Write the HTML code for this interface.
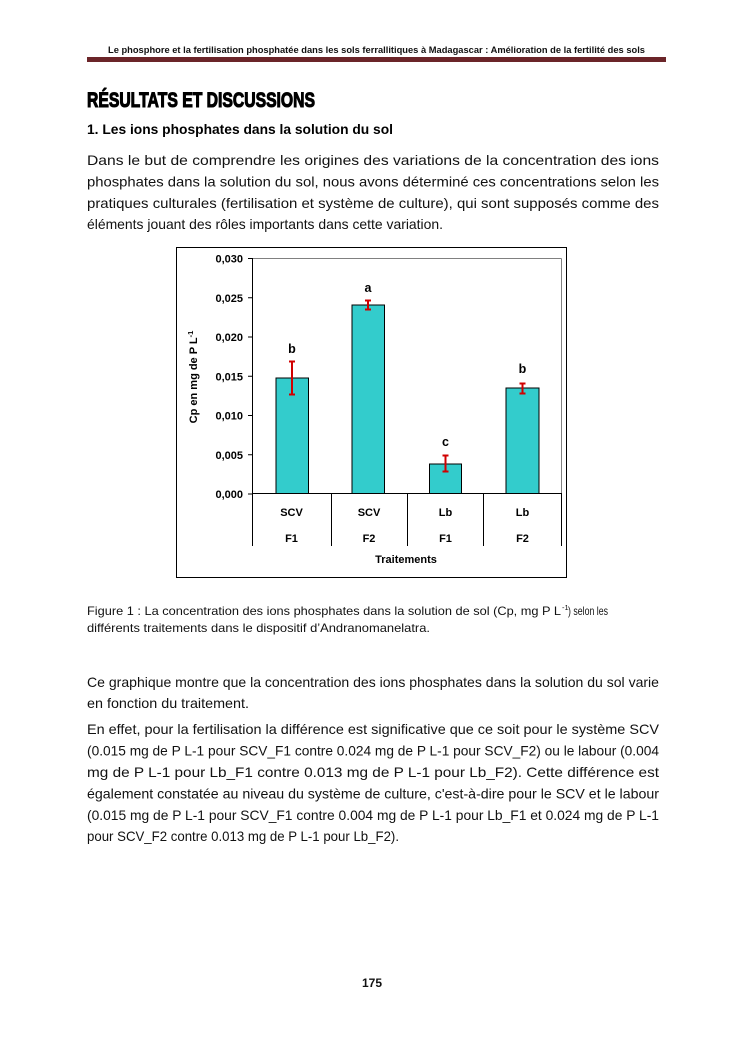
<!DOCTYPE html>
<html><head><meta charset="utf-8">
<style>
html,body{margin:0;padding:0;background:#fff;}
svg{display:block;}
text{font-family:"Liberation Sans",Arial,sans-serif;}
</style></head>
<body>
<svg width="745" height="1053" viewBox="0 0 745 1053" xmlns="http://www.w3.org/2000/svg">
<rect width="745" height="1053" fill="#fff"/>
<!-- Header -->
<text x="108" y="53" font-size="9.5" font-weight="bold" fill="#111" textLength="537" lengthAdjust="spacingAndGlyphs">Le phosphore et la fertilisation phosphatée dans les sols ferrallitiques à Madagascar : Amélioration de la fertilité des sols</text>
<rect x="87" y="57" width="579" height="5" fill="#6b2529"/>

<!-- Title -->
<text x="87" y="107" font-size="21" font-weight="bold" fill="#000" stroke="#000" stroke-width="1.1" textLength="228" lengthAdjust="spacingAndGlyphs">RÉSULTATS ET DISCUSSIONS</text>
<text x="87" y="134" font-size="13.4" font-weight="bold" fill="#000" textLength="306" lengthAdjust="spacingAndGlyphs">1. Les ions phosphates dans la solution du sol</text>

<!-- Paragraph 1 -->
<g font-size="13.6" fill="#111">
<text x="87" y="165" textLength="572" lengthAdjust="spacingAndGlyphs">Dans le but de comprendre les origines des variations de la concentration des ions</text>
<text x="87" y="186.5" textLength="572" lengthAdjust="spacingAndGlyphs">phosphates dans la solution du sol, nous avons déterminé ces concentrations selon les</text>
<text x="87" y="208" textLength="572" lengthAdjust="spacingAndGlyphs">pratiques culturales (fertilisation et système de culture), qui sont supposés comme des</text>
<text x="87" y="229" textLength="356" lengthAdjust="spacingAndGlyphs">éléments jouant des rôles importants dans cette variation.</text>
</g>

<!-- Chart -->
<rect x="176.5" y="247.5" width="390" height="330" fill="#fff" stroke="#000" stroke-width="1"/>
<line x1="252" y1="258.5" x2="561.5" y2="258.5" stroke="#808080" stroke-width="1"/>
<line x1="561.5" y1="258.5" x2="561.5" y2="493.5" stroke="#808080" stroke-width="1"/>
<line x1="252.5" y1="258" x2="252.5" y2="546" stroke="#000" stroke-width="1"/>
<g stroke="#000" stroke-width="1">
<line x1="248" y1="258.5" x2="252" y2="258.5"/>
<line x1="248" y1="297.75" x2="252" y2="297.75"/>
<line x1="248" y1="337" x2="252" y2="337"/>
<line x1="248" y1="376.25" x2="252" y2="376.25"/>
<line x1="248" y1="415.5" x2="252" y2="415.5"/>
<line x1="248" y1="454.75" x2="252" y2="454.75"/>
<line x1="248" y1="494" x2="252" y2="494"/>
</g>
<g font-size="11" font-weight="bold" fill="#000" text-anchor="end">
<text x="243" y="262.5">0,030</text>
<text x="243" y="301.75">0,025</text>
<text x="243" y="341">0,020</text>
<text x="243" y="380.25">0,015</text>
<text x="243" y="419.5">0,010</text>
<text x="243" y="458.75">0,005</text>
<text x="243" y="498">0,000</text>
</g>
<text transform="translate(197,377) rotate(-90)" font-size="11" font-weight="bold" fill="#000" text-anchor="middle">Cp en mg de P L<tspan font-size="7.5" dy="-4">-1</tspan></text>

<g fill="#33CCCC" stroke="#000" stroke-width="1">
<rect x="276" y="378" width="32.5" height="115.5"/>
<rect x="352" y="305" width="32.5" height="188.5"/>
<rect x="429.5" y="464" width="32" height="29.5"/>
<rect x="506" y="388" width="33" height="105.5"/>
</g>
<line x1="252" y1="493.5" x2="562" y2="493.5" stroke="#000" stroke-width="1"/>
<g stroke="#000" stroke-width="1">
<line x1="331.5" y1="493.5" x2="331.5" y2="546"/>
<line x1="407.5" y1="493.5" x2="407.5" y2="546"/>
<line x1="483.5" y1="493.5" x2="483.5" y2="546"/>
<line x1="561.5" y1="493.5" x2="561.5" y2="546"/>
</g>
<g stroke="#d00000" stroke-width="2" fill="none">
<line x1="292" y1="361" x2="292" y2="395"/><line x1="289" y1="361.5" x2="295" y2="361.5"/><line x1="289" y1="394.5" x2="295" y2="394.5"/>
<line x1="368" y1="300" x2="368" y2="310"/><line x1="365" y1="300.5" x2="371" y2="300.5"/><line x1="365" y1="309.5" x2="371" y2="309.5"/>
<line x1="445.5" y1="455" x2="445.5" y2="472"/><line x1="442.5" y1="455.5" x2="448.5" y2="455.5"/><line x1="442.5" y1="471.5" x2="448.5" y2="471.5"/>
<line x1="522.5" y1="383" x2="522.5" y2="394"/><line x1="519.5" y1="383.5" x2="525.5" y2="383.5"/><line x1="519.5" y1="393.5" x2="525.5" y2="393.5"/>
</g>
<g font-size="12.5" font-weight="bold" fill="#000" text-anchor="middle">
<text x="292" y="353">b</text>
<text x="368" y="292">a</text>
<text x="445.5" y="446">c</text>
<text x="522.5" y="373">b</text>
</g>
<g font-size="11" font-weight="bold" fill="#000" text-anchor="middle">
<text x="291.5" y="516">SCV</text>
<text x="369" y="516">SCV</text>
<text x="445.5" y="516">Lb</text>
<text x="522.5" y="516">Lb</text>
<text x="291.5" y="542">F1</text>
<text x="369" y="542">F2</text>
<text x="445.5" y="542">F1</text>
<text x="522.5" y="542">F2</text>
<text x="406" y="563">Traitements</text>
</g>

<!-- Caption -->
<g font-size="12" fill="#111">
<text x="87" y="615" textLength="474" lengthAdjust="spacingAndGlyphs">Figure 1 : La concentration des ions phosphates dans la solution de sol (Cp, mg P L</text>
<text x="562" y="610" font-size="7.5">-1</text>
<text x="568" y="615" textLength="40" lengthAdjust="spacingAndGlyphs">) selon les</text>
<text x="87" y="632" textLength="343" lengthAdjust="spacingAndGlyphs">différents traitements dans le dispositif d’Andranomanelatra.</text>
</g>

<!-- Paragraph 2 -->
<g font-size="13.6" fill="#111">
<text x="87" y="687" textLength="572" lengthAdjust="spacingAndGlyphs">Ce graphique montre que la concentration des ions phosphates dans la solution du sol varie</text>
<text x="87" y="708" textLength="162" lengthAdjust="spacingAndGlyphs">en fonction du traitement.</text>
<!-- Paragraph 3 -->
<text x="87" y="734" textLength="572" lengthAdjust="spacingAndGlyphs">En effet, pour la fertilisation la différence est significative que ce soit pour le système SCV</text>
<text x="87" y="755.5" textLength="572" lengthAdjust="spacingAndGlyphs">(0.015 mg de P L-1 pour SCV_F1 contre 0.024 mg de P L-1 pour SCV_F2) ou le labour (0.004</text>
<text x="87" y="777" textLength="572" lengthAdjust="spacingAndGlyphs">mg de P L-1 pour Lb_F1 contre 0.013 mg de P L-1 pour Lb_F2). Cette différence est</text>
<text x="87" y="798.5" textLength="572" lengthAdjust="spacingAndGlyphs">également constatée au niveau du système de culture, c'est-à-dire pour le SCV et le labour</text>
<text x="87" y="820" textLength="572" lengthAdjust="spacingAndGlyphs">(0.015 mg de P L-1 pour SCV_F1 contre 0.004 mg de P L-1 pour Lb_F1 et 0.024 mg de P L-1</text>
<text x="87" y="841" textLength="312" lengthAdjust="spacingAndGlyphs">pour SCV_F2 contre 0.013 mg de P L-1 pour Lb_F2).</text>
</g>

<text x="372" y="987" font-size="12" font-weight="bold" fill="#111" text-anchor="middle">175</text>
</svg>
</body></html>
